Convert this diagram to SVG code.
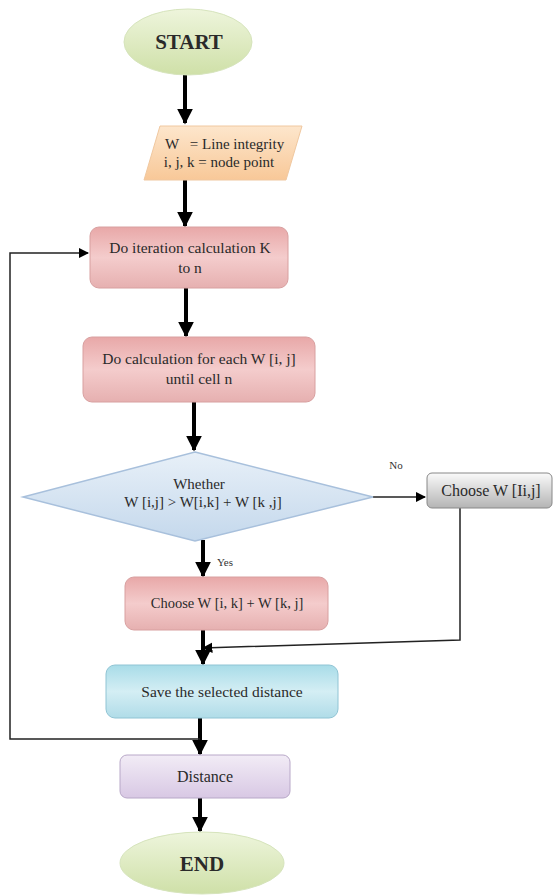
<svg xmlns="http://www.w3.org/2000/svg" width="553" height="895" viewBox="0 0 553 895">
<defs>
<linearGradient id="gGreen" x1="0" y1="0" x2="0" y2="1"><stop offset="0" stop-color="#eef5dc"/><stop offset="1" stop-color="#cfe0a8"/></linearGradient>
<linearGradient id="gOrange" x1="0" y1="0" x2="0" y2="1"><stop offset="0" stop-color="#fde6cc"/><stop offset="1" stop-color="#f8c898"/></linearGradient>
<linearGradient id="gPink" x1="0" y1="0" x2="0" y2="1"><stop offset="0" stop-color="#e8a8a8"/><stop offset="0.5" stop-color="#f4cccc"/><stop offset="1" stop-color="#e6b0b0"/></linearGradient>
<linearGradient id="gBlue" x1="0" y1="0" x2="0" y2="1"><stop offset="0" stop-color="#e8f0f8"/><stop offset="1" stop-color="#c4d8ec"/></linearGradient>
<linearGradient id="gGray" x1="0" y1="0" x2="0" y2="1"><stop offset="0" stop-color="#fafafa"/><stop offset="1" stop-color="#b4b4b4"/></linearGradient>
<linearGradient id="gCyan" x1="0" y1="0" x2="0" y2="1"><stop offset="0" stop-color="#a8dce8"/><stop offset="0.5" stop-color="#d4eef4"/><stop offset="1" stop-color="#b0dce8"/></linearGradient>
<linearGradient id="gLav" x1="0" y1="0" x2="0" y2="1"><stop offset="0" stop-color="#f2ecf6"/><stop offset="1" stop-color="#d8c8e4"/></linearGradient>
<marker id="ah" viewBox="0 0 10 10" refX="9" refY="5" markerWidth="4" markerHeight="4" orient="auto" markerUnits="strokeWidth"><path d="M0,0 L10,5 L0,10 z" fill="#000"/></marker>
<marker id="ahs" viewBox="0 0 10 10" refX="9" refY="5" markerWidth="7" markerHeight="7" orient="auto" markerUnits="strokeWidth"><path d="M0,0 L10,5 L0,10 z" fill="#000"/></marker>
</defs>
<style>
text{font-family:"Liberation Serif","DejaVu Serif","Times New Roman",serif;fill:#2a2a2a;text-anchor:middle}
.t{font-size:15.5px}
.b{font-size:21px;font-weight:bold}
.s{font-size:11px;fill:#333}
.thick{stroke:#000;stroke-width:4;fill:none}
.thin{stroke:#222;stroke-width:1.5;fill:none}
</style>
<g id="connectors">
<line class="thick" x1="185" y1="75" x2="185" y2="123" marker-end="url(#ah)"/>
<line class="thick" x1="185" y1="180" x2="185" y2="226" marker-end="url(#ah)"/>
<line class="thick" x1="186" y1="288" x2="186" y2="336" marker-end="url(#ah)"/>
<line class="thick" x1="194" y1="402" x2="194" y2="450" marker-end="url(#ah)"/>
<line class="thin" x1="373" y1="497" x2="425" y2="497" marker-end="url(#ahs)"/>
<line class="thick" x1="203" y1="540" x2="203" y2="576" marker-end="url(#ah)"/>
<polyline class="thin" points="460,508 460,640 203,648" marker-end="url(#ahs)"/>
<line class="thick" x1="203" y1="630" x2="203" y2="664" marker-end="url(#ah)"/>
<line class="thick" x1="200" y1="718" x2="200" y2="754" marker-end="url(#ah)"/>
<polyline class="thin" points="200,739 10,739 10,253 88,253" marker-end="url(#ahs)"/>
<line class="thick" x1="200" y1="798" x2="200" y2="831" marker-end="url(#ah)"/>
</g>
<g id="start">
<ellipse cx="188" cy="42" rx="64" ry="33" fill="url(#gGreen)" stroke="#d6e4bc" stroke-width="1"/>
<text class="b" x="189" y="49">START</text>
</g>
<g id="input">
<polygon points="160,126 302,126 286,180 144,180" fill="url(#gOrange)" stroke="#f0c8a0" stroke-width="1"/>
<text x="165" y="149" style="font-size:15px;text-anchor:start">W</text>
<text x="237" y="149" style="font-size:15px">= Line integrity</text>
<text x="219" y="167" style="font-size:15px">i, j, k = node point</text>
</g>
<g id="iteration">
<rect x="90" y="227" width="198" height="61" rx="9" fill="url(#gPink)" stroke="#d8a0a0" stroke-width="1"/>
<text class="t" x="190" y="253">Do iteration calculation K</text>
<text class="t" x="190" y="273">to n</text>
</g>
<g id="calc">
<rect x="83" y="337" width="232" height="65" rx="9" fill="url(#gPink)" stroke="#d8a0a0" stroke-width="1"/>
<text class="t" x="199" y="364">Do calculation for each W [i, j]</text>
<text class="t" x="199" y="384">until cell n</text>
</g>
<g id="decision">
<polygon points="195,452 373,497 195,541 23,497" fill="url(#gBlue)" stroke="#a8c0dc" stroke-width="1.5"/>
<text x="199" y="489" style="font-size:15px">Whether</text>
<text x="203" y="507" style="font-size:15px">W [i,j] &gt; W[i,k] +  W [k ,j]</text>
</g>
<text class="s" x="396" y="469">No</text>
<text class="s" x="225" y="566">Yes</text>
<g id="chooseij">
<rect x="427" y="473" width="125" height="35" rx="5" fill="url(#gGray)" stroke="#888" stroke-width="1"/>
<text x="491" y="496" style="font-size:16px">Choose W [Ii,j]</text>
</g>
<g id="chooseik">
<rect x="125" y="577" width="203" height="53" rx="9" fill="url(#gPink)" stroke="#d8a0a0" stroke-width="1"/>
<text x="227" y="608" style="font-size:14.5px">Choose W [i, k] + W [k, j]</text>
</g>
<g id="save">
<rect x="106" y="665" width="232" height="53" rx="9" fill="url(#gCyan)" stroke="#90c4d4" stroke-width="1"/>
<text class="t" x="222" y="697">Save the selected distance</text>
</g>
<g id="distance">
<rect x="120" y="755" width="170" height="43" rx="7" fill="url(#gLav)" stroke="#b8a8c8" stroke-width="1"/>
<text x="205" y="782" style="font-size:16px">Distance</text>
</g>
<g id="end">
<ellipse cx="202" cy="863" rx="82" ry="31" fill="url(#gGreen)" stroke="#d6e4bc" stroke-width="1"/>
<text class="b" x="202" y="871">END</text>
</g>
</svg>
